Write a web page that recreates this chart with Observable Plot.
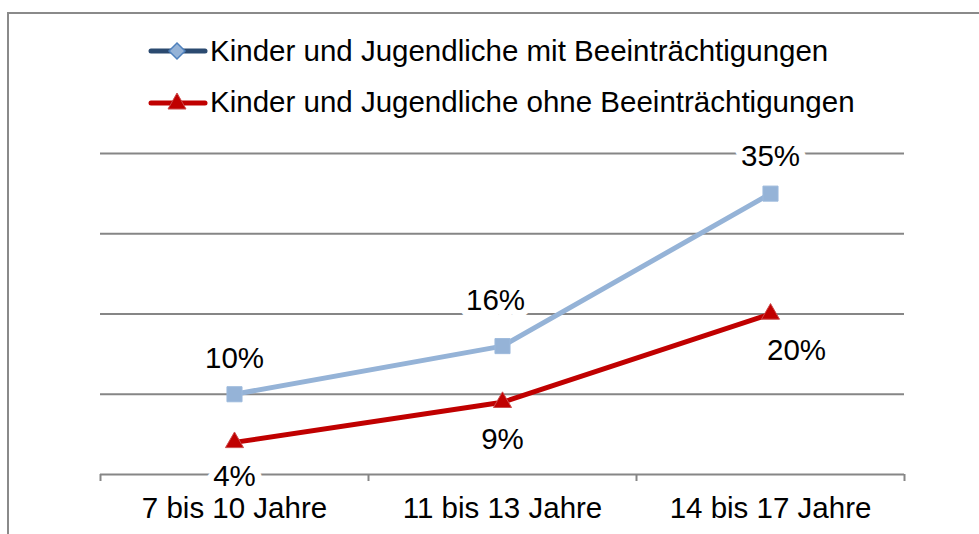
<!DOCTYPE html>
<html><head><meta charset="utf-8">
<script src="https://cdn.jsdelivr.net/npm/d3@7"></script>
<script src="https://cdn.jsdelivr.net/npm/@observablehq/plot@0.6"></script>
<style>
body{margin:0;background:#fff;font-family:"Liberation Sans",Arial,sans-serif;}
#wrap{position:relative;width:979px;height:534px;overflow:hidden;background:#fff;}
#frame{position:absolute;left:7px;top:12px;width:1000px;height:600px;border-left:2px solid #8a8a8a;border-top:2px solid #8a8a8a;pointer-events:none;}
#legend{position:absolute;left:0;top:0;width:979px;height:130px;}
.item{position:absolute;left:148px;height:40px;display:flex;align-items:center;font-size:29.5px;color:#000;white-space:nowrap;}
.item svg{margin-right:2px;}
#chart{position:absolute;left:0;top:130px;}
</style></head>
<body>
<div id="wrap">
  <div id="legend"></div>
  <div id="chart"></div>
  <div id="frame"></div>
</div>
<script>
const categories = ["7 bis 10 Jahre", "11 bis 13 Jahre", "14 bis 17 Jahre"];
const seriesNames = ["Kinder und Jugendliche mit Beeinträchtigungen", "Kinder und Jugendliche ohne Beeinträchtigungen"];
const withImpairment = [10, 16, 35];
const withoutImpairment = [4, 9, 20];
const gridValues = [10, 20, 30, 40];

const blueC = "#95B3D7", redC = "#C00000";

// Legend
const legend = document.getElementById("legend");
const swatches = [
  `<svg width="60" height="24"><line x1="3" y1="12" x2="57" y2="12" stroke="#2B4A70" stroke-width="5" stroke-linecap="round"/><polygon points="29,4 37,12 29,20 21,12" fill="${blueC}" stroke="#4F81BD" stroke-width="1.5"/></svg>`,
  `<svg width="60" height="24"><line x1="3" y1="13" x2="57" y2="13" stroke="${redC}" stroke-width="5" stroke-linecap="round"/><polygon points="29,3 38,19 20,19" fill="${redC}" stroke="#CC4A4A" stroke-width="1"/></svg>`
];
seriesNames.forEach((name, i) => {
  const d = document.createElement("div");
  d.className = "item";
  d.style.top = (31 + i * 51) + "px";
  d.innerHTML = swatches[i] + `<span>${name}</span>`;
  legend.appendChild(d);
});

const blue = categories.map((c, i) => ({x: i + 0.5, v: withImpairment[i], cat: c}));
const red = categories.map((c, i) => ({x: i + 0.5, v: withoutImpairment[i], cat: c}));

const blueOffsets = [[0, -36], [-7, -46], [0, -37]];
const redOffsets = [[0, 34], [0, 37], [26, 37]];

const labelMarks = (data, offs) => data.map((d, i) => Plot.text([d], {
  x: "x", y: "v", text: r => r.v + "%",
  dx: offs[i][0], dy: offs[i][1],
  fill: "#000", stroke: "white", strokeWidth: 14, paintOrder: "stroke",
  fontSize: 29.5
}));

const chart = Plot.plot({
  width: 979, height: 404,
  marginTop: 23, marginBottom: 60, marginLeft: 100, marginRight: 75,
  x: {domain: [0, 3], axis: null},
  y: {domain: [0, 40], axis: null},
  style: {fontFamily: "'Liberation Sans', Arial, sans-serif", fontSize: "29.5px", background: "transparent", overflow: "visible", color: "#000"},
  marks: [
    Plot.ruleY(gridValues, {stroke: "#868686", strokeWidth: 2}),
    Plot.ruleY([0], {stroke: "#868686", strokeWidth: 2}),
    Plot.axisX({ticks: [0, 1, 2, 3], tickSize: 7, tickFormat: () => "", label: null, stroke: "#868686", strokeWidth: 2}),
    Plot.line(blue, {x: "x", y: "v", stroke: blueC, strokeWidth: 5}),
    Plot.line(red, {x: "x", y: "v", stroke: redC, strokeWidth: 5}),
    Plot.dot(blue, {x: "x", y: "v", symbol: "square", r: 8.5, fill: blueC, stroke: "#9DBADC", strokeWidth: 1}),
    Plot.dot(red, {x: "x", y: "v", symbol: "triangle", r: 6.7, fill: redC, stroke: "#CC4A4A", strokeWidth: 1}),
    ...labelMarks(blue, blueOffsets),
    ...labelMarks(red, redOffsets),
    Plot.axisX({ticks: [0.5, 1.5, 2.5], tickSize: 0, tickPadding: 23, tickFormat: d => categories[Math.floor(d)], label: null, fontSize: 29.5, fill: "#000"})
  ]
});
document.getElementById("chart").appendChild(chart);
</script>
</body></html>
